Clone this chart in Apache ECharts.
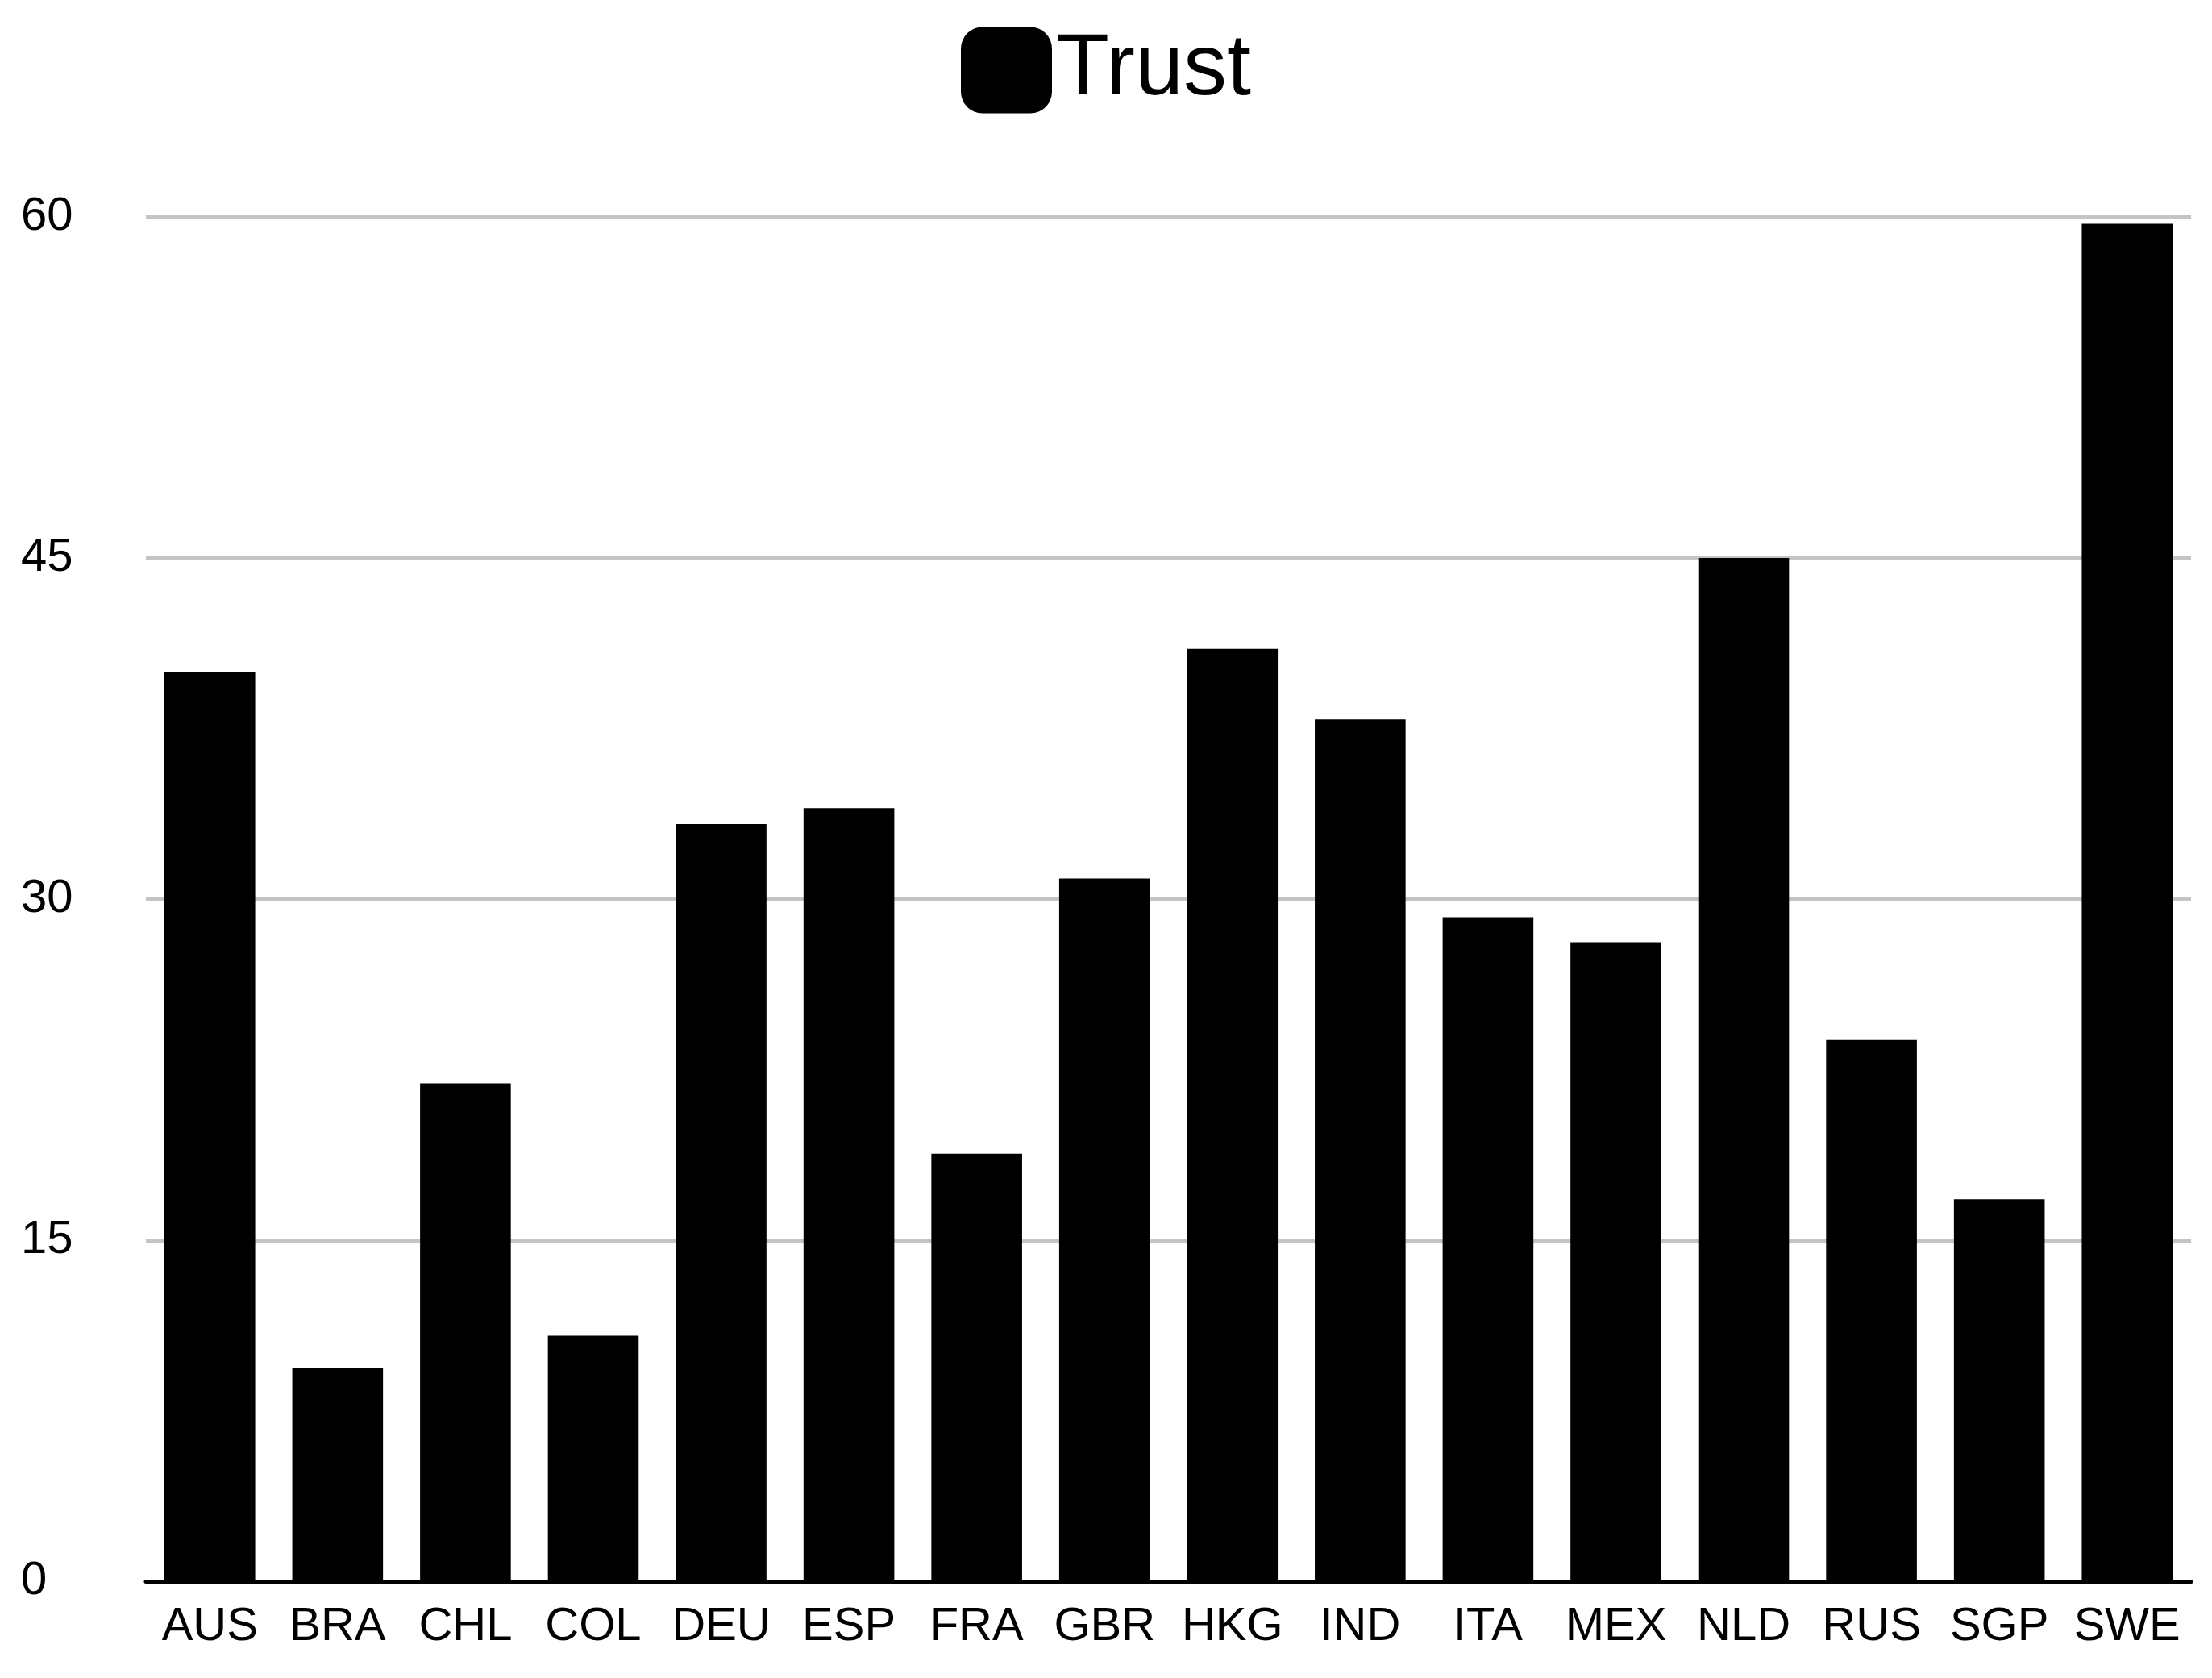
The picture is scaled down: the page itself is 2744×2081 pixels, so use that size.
<!DOCTYPE html>
<html>
<head>
<meta charset="UTF-8">
<script src="https://cdn.jsdelivr.net/npm/echarts@6/dist/echarts.min.js"></script>
<style>html,body{margin:0;background:#fff}</style>
</head>
<body>
<div id="main" style="width:2744px;height:2081px;"></div>
<script>
var countries = ['AUS','BRA','CHL','COL','DEU','ESP','FRA','GBR','HKG','IND','ITA','MEX','NLD','RUS','SGP','SWE'];
var trust = [40.0, 9.4, 21.9, 10.8, 33.3, 34.0, 18.8, 30.9, 41.0, 37.9, 29.2, 28.1, 45.0, 23.8, 16.8, 59.7];

var chart = echarts.init(document.getElementById('main'));
chart.setOption({
    animation: false,
    textStyle: { fontFamily: 'Helvetica, Arial, Liberation Sans, sans-serif' },
    legend: {
        top: 28, left: 'center',
        itemWidth: 113, itemHeight: 107, itemGap: 70,
        textStyle: { fontSize: 108, color: '#000' },
        data: ['Trust']
    },
    grid: { left: 181, right: 26, top: 269, bottom: 120 },
    xAxis: {
        type: 'category',
        data: countries,
        axisTick: { show: false },
        axisLine: { lineStyle: { color: '#000', width: 5 } },
        axisLabel: { fontSize: 58, color: '#000', margin: 28, interval: 0 }
    },
    yAxis: {
        type: 'value', min: 0, max: 60, interval: 15,
        axisLine: { show: false },
        axisTick: { show: false },
        splitLine: { lineStyle: { color: '#c4c4c4', width: 5 } },
        axisLabel: { fontSize: 58, color: '#000', align: 'left', margin: 155 }
    },
    series: [{
        name: 'Trust',
        type: 'bar',
        data: trust,
        barCategoryGap: '29%',
        itemStyle: { color: '#000' }
    }]
});
</script>
</body>
</html>
